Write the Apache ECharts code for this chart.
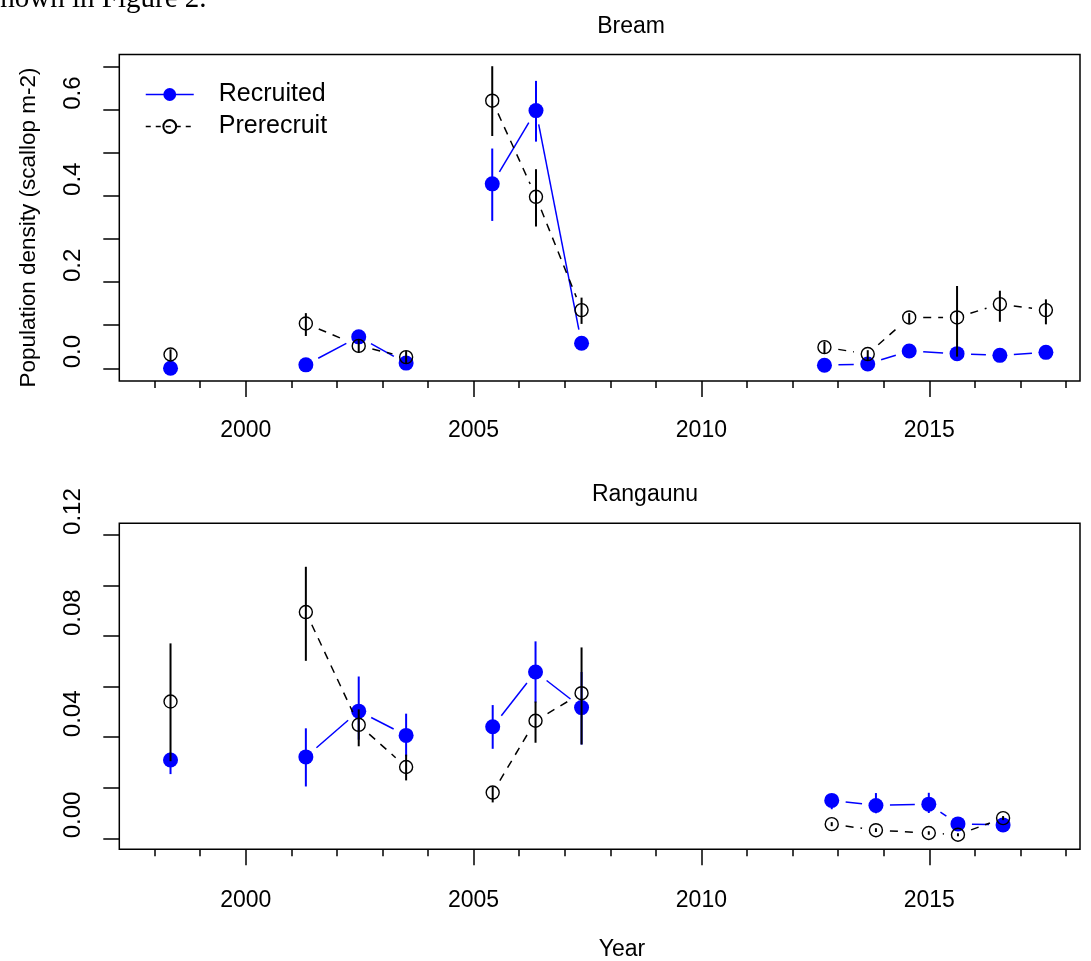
<!DOCTYPE html>
<html>
<head>
<meta charset="utf-8">
<script src="https://cdn.jsdelivr.net/npm/echarts@6/dist/echarts.min.js"></script>
<style>
  html, body { margin: 0; padding: 0; background: #fff; }
  #main { width: 1091px; height: 961px; }
</style>
</head>
<body>
<div id="main"></div>
<script>
// axis ticks and labels
var xTickYears = ['1998', '1999', '2000', '2001', '2002', '2003', '2004', '2005', '2006', '2007', '2008',
  '2009', '2010', '2011', '2012', '2013', '2014', '2015', '2016', '2017', '2018'];
var xLabelYears = ['2000', '2005', '2010', '2015'];
var breamYLabels = ['0.0', '0.2', '0.4', '0.6'];
var rangaunuYLabels = ['0.00', '0.04', '0.08', '0.12'];

// Bream: survey year, plotting date, densities and error bars
var breamSurvey = [1998, 2001, 2002, 2003, 2005, 2006, 2007, 2012, 2013, 2014, 2015, 2016, 2017];
var breamDate = [1998.35, 2001.32, 2002.48, 2003.52, 2005.41, 2006.37, 2007.37, 2012.70, 2013.65, 2014.56, 2015.61, 2016.55, 2017.56];
var breamRec = [0.000, 0.008, 0.073, 0.012, 0.428, 0.598, 0.058, 0.007, 0.010, 0.040, 0.034, 0.030, 0.037];
var breamRecLo = [0.000, 0.004, 0.063, 0.006, 0.342, 0.526, 0.048, 0.003, 0.006, 0.034, 0.028, 0.025, 0.032];
var breamRecHi = [0.004, 0.012, 0.083, 0.018, 0.510, 0.667, 0.068, 0.011, 0.014, 0.046, 0.040, 0.035, 0.042];
var breamPre = [0.032, 0.104, 0.052, 0.026, 0.621, 0.398, 0.135, 0.049, 0.033, 0.118, 0.118, 0.149, 0.135];
var breamPreLo = [0.018, 0.075, 0.036, 0.010, 0.539, 0.329, 0.103, 0.035, 0.019, 0.104, 0.027, 0.108, 0.102];
var breamPreHi = [0.044, 0.128, 0.068, 0.040, 0.701, 0.462, 0.164, 0.062, 0.042, 0.128, 0.191, 0.180, 0.160];

// Rangaunu
var rangSurvey = [1998, 2001, 2002, 2003, 2005, 2006, 2007, 2012, 2013, 2014, 2015, 2016];
var rangDate = [1998.35, 2001.32, 2002.48, 2003.52, 2005.42, 2006.36, 2007.37, 2012.86, 2013.83, 2014.99, 2015.63, 2016.62];
var rangRec = [0.0310, 0.0322, 0.0503, 0.0407, 0.0441, 0.0658, 0.0517, 0.0150, 0.0130, 0.0135, 0.0057, 0.0053];
var rangRecLo = [0.0254, 0.0205, 0.0390, 0.0324, 0.0354, 0.0537, 0.0371, 0.0115, 0.0099, 0.0100, 0.0045, 0.0040];
var rangRecHi = [0.0339, 0.0435, 0.0640, 0.0493, 0.0527, 0.0779, 0.0658, 0.0172, 0.0179, 0.0180, 0.0065, 0.0068];
var rangPre = [0.0541, 0.0895, 0.0449, 0.0282, 0.0181, 0.0465, 0.0574, 0.0056, 0.0032, 0.0021, 0.0014, 0.0080];
var rangPreLo = [0.0305, 0.0702, 0.0364, 0.0229, 0.0142, 0.0378, 0.0371, 0.0048, 0.0025, 0.0014, 0.0008, 0.0072];
var rangPreHi = [0.0771, 0.1074, 0.0510, 0.0331, 0.0205, 0.0541, 0.0755, 0.0064, 0.0040, 0.0028, 0.0020, 0.0088];

var FONT = '"Liberation Sans", Arial, Helvetica, sans-serif';
var BLUE = '#0000ff';
var GAP = 14; // R type="b" gap round each point

// plot box and the data range it shows (R pads the range by 4%)
var BOX_L = 119.3, BOX_R = 1080;
var X_MIN = 1997.226, X_MAX = 2018.308;

function xPx(year) {
  return BOX_L + (year - X_MIN) / (X_MAX - X_MIN) * (BOX_R - BOX_L);
}

var panels = [
  {
    top: 54.5, bottom: 381, yMin: -0.0295, yMax: 0.7282,
    tickMax: 0.7, tickStep: 0.1, digits: 1, yLabels: breamYLabels, xMargin: 38,
    survey: breamSurvey, date: breamDate,
    rec: breamRec, recLo: breamRecLo, recHi: breamRecHi,
    pre: breamPre, preLo: breamPreLo, preHi: breamPreHi
  },
  {
    top: 523.3, bottom: 849.3, yMin: -0.00435, yMax: 0.1246,
    tickMax: 0.12, tickStep: 0.02, digits: 2, yLabels: rangaunuYLabels, xMargin: 40,
    survey: rangSurvey, date: rangDate,
    rec: rangRec, recLo: rangRecLo, recHi: rangRecHi,
    pre: rangPre, preLo: rangPreLo, preHi: rangPreHi
  }
];

function yPx(p, v) {
  return p.bottom - (v - p.yMin) / (p.yMax - p.yMin) * (p.bottom - p.top);
}

function segments(p, vals) {
  var out = [];
  for (var i = 0; i < vals.length - 1; i++) {
    if (p.survey[i + 1] - p.survey[i] === 1) {
      out.push([p.date[i], vals[i], p.date[i + 1], vals[i + 1]]);
    }
  }
  return out;
}

function points(p, vals) {
  return vals.map(function (v, i) { return [p.date[i], v]; });
}

function bars(p, lo, hi) {
  return lo.map(function (v, i) { return [p.date[i], v, hi[i]]; });
}

function gapLine(color, dash) {
  return function (params, api) {
    var a = api.coord([api.value(0), api.value(1)]);
    var b = api.coord([api.value(2), api.value(3)]);
    var dx = b[0] - a[0], dy = b[1] - a[1];
    var len = Math.sqrt(dx * dx + dy * dy);
    if (len <= 2 * GAP) return null;
    var ux = dx / len, uy = dy / len;
    return {
      type: 'line',
      shape: { x1: a[0] + ux * GAP, y1: a[1] + uy * GAP, x2: b[0] - ux * GAP, y2: b[1] - uy * GAP },
      style: { stroke: color, lineWidth: 1.5, lineDash: dash }
    };
  };
}

function errBar(color) {
  return function (params, api) {
    var a = api.coord([api.value(0), api.value(1)]);
    var b = api.coord([api.value(0), api.value(2)]);
    return {
      type: 'line',
      shape: { x1: a[0], y1: a[1], x2: b[0], y2: b[1] },
      style: { stroke: color, lineWidth: 2 }
    };
  };
}

var grid = [], xAxis = [], yAxis = [], series = [];
var tickStyle = { color: '#000', width: 1.5 };

panels.forEach(function (p, k) {
  var g0 = grid.length;
  var xi = xAxis.length, yi = yAxis.length;
  // box
  grid.push({ left: BOX_L, top: p.top, width: BOX_R - BOX_L, height: p.bottom - p.top,
    show: true, borderColor: '#000', borderWidth: 1.5, outerBoundsMode: 'none' });
  // x ticks 1998..2018
  var xl = xPx(1998), xr = xPx(2018);
  grid.push({ left: xl, top: p.top, width: xr - xl, height: p.bottom - p.top, outerBoundsMode: 'none' });
  // y ticks 0..tickMax
  var yt = yPx(p, p.tickMax), yb = yPx(p, 0);
  grid.push({ left: BOX_L, top: yt, width: 10, height: yb - yt, outerBoundsMode: 'none' });

  xAxis.push(
    { gridIndex: g0, type: 'value', min: X_MIN, max: X_MAX, show: false },
    { gridIndex: g0 + 1, type: 'category', position: 'bottom', data: xTickYears, boundaryGap: false,
      axisLine: { show: false },
      axisTick: { show: true, interval: 0, length: 7, lineStyle: tickStyle },
      axisLabel: { show: false }, splitLine: { show: false } },
    { gridIndex: g0 + 1, type: 'category', position: 'bottom', data: xTickYears, boundaryGap: false,
      axisLine: { show: false },
      axisTick: { show: true, length: 16, lineStyle: tickStyle,
        interval: function (i, v) { return xLabelYears.indexOf(v) >= 0; } },
      axisLabel: { show: true, color: '#000', fontSize: 23, fontFamily: FONT, margin: p.xMargin,
        interval: function (i, v) { return xLabelYears.indexOf(v) >= 0; } },
      splitLine: { show: false } },
    { gridIndex: g0 + 2, type: 'value', show: false }
  );
  yAxis.push(
    { gridIndex: g0, type: 'value', min: p.yMin, max: p.yMax, show: false },
    { gridIndex: g0 + 1, type: 'value', show: false },
    { gridIndex: g0 + 2, type: 'value', position: 'left', min: 0, max: p.tickMax, interval: p.tickStep,
      axisLine: { show: false },
      axisTick: { show: true, length: 16, lineStyle: tickStyle },
      splitLine: { show: false },
      axisLabel: { show: true, rotate: 90, align: 'left', verticalAlign: 'bottom', margin: 34,
        color: '#000', fontSize: 24, fontFamily: FONT,
        formatter: function (v) {
          var s = v.toFixed(p.digits);
          return p.yLabels.indexOf(s) >= 0 ? s : '';
        } } }
  );

  var ax = { xAxisIndex: xi, yAxisIndex: yi };
  series.push(
    Object.assign({ type: 'custom', name: 'rec-line-' + k, z: 2, silent: true,
      renderItem: gapLine(BLUE, null), data: segments(p, p.rec) }, ax),
    Object.assign({ type: 'custom', name: 'rec-bar-' + k, z: 3, silent: true,
      renderItem: errBar(BLUE), data: bars(p, p.recLo, p.recHi) }, ax),
    Object.assign({ type: 'line', name: 'Recruited', z: 4, silent: true, clip: false,
      symbol: 'circle', symbolSize: 15, showSymbol: true,
      itemStyle: { color: BLUE }, lineStyle: { opacity: 0 },
      data: points(p, p.rec) }, ax),
    Object.assign({ type: 'custom', name: 'pre-line-' + k, z: 5, silent: true,
      renderItem: gapLine('#000', [8, 7]), data: segments(p, p.pre) }, ax),
    Object.assign({ type: 'line', name: 'Prerecruit', z: 6, silent: true, clip: false,
      symbol: 'circle', symbolSize: 13, showSymbol: true,
      itemStyle: { color: 'rgba(0,0,0,0)', borderColor: '#000', borderWidth: 1.4 },
      lineStyle: { opacity: 0 },
      data: points(p, p.pre) }, ax),
    Object.assign({ type: 'custom', name: 'pre-bar-' + k, z: 7, silent: true,
      renderItem: errBar('#000'), data: bars(p, p.preLo, p.preHi) }, ax)
  );
});

var chart = echarts.init(document.getElementById('main'), null, { renderer: 'canvas' });
chart.setOption({
  animation: false,
  backgroundColor: '#fff',
  grid: grid,
  xAxis: xAxis,
  yAxis: yAxis,
  legend: {
    orient: 'vertical', left: 140, top: 77,
    itemWidth: 48, itemHeight: 16, itemGap: 7,
    selectedMode: false,
    textStyle: { color: '#000', fontSize: 25, fontFamily: FONT, padding: [0, 0, 0, 20] },
    data: [
      { name: 'Recruited', lineStyle: { color: BLUE, width: 1.5, type: 'solid', opacity: 1 } },
      { name: 'Prerecruit', lineStyle: { color: '#000', width: 1.5, type: [5, 5], opacity: 1 } }
    ]
  },
  graphic: [
    { type: 'text', x: -11, y: -1, silent: true,
      style: { text: 'shown in Figure 2.', fill: '#000', fontSize: 29,
        fontFamily: '"Liberation Serif", "Times New Roman", serif', verticalAlign: 'middle' } },
    { type: 'text', x: 631, y: 26.3, silent: true,
      style: { text: 'Bream', fill: '#000', fontSize: 23, fontFamily: FONT, align: 'center', verticalAlign: 'middle' } },
    { type: 'text', x: 645, y: 495, silent: true,
      style: { text: 'Rangaunu', fill: '#000', fontSize: 23, fontFamily: FONT, align: 'center', verticalAlign: 'middle' } },
    { type: 'text', x: 622, y: 950, silent: true,
      style: { text: 'Year', fill: '#000', fontSize: 23, fontFamily: FONT, align: 'center', verticalAlign: 'middle' } },
    { type: 'text', x: 29.2, y: 227.5, rotation: Math.PI / 2, silent: true,
      style: { text: 'Population density (scallop m-2)', fill: '#000', fontSize: 22.5, fontFamily: FONT,
        align: 'center', verticalAlign: 'middle' } }
  ],
  series: series
});
</script>
</body>
</html>
